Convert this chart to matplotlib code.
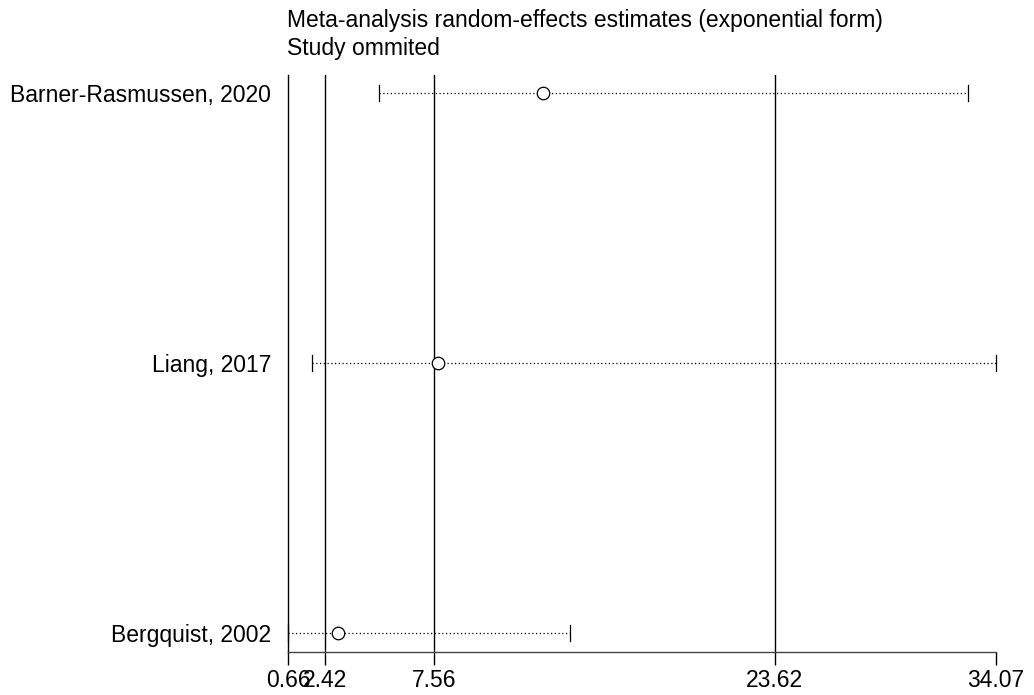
import numpy as np
import matplotlib.pyplot as plt

plt.rcParams['font.family'] = ['Liberation Sans', 'DejaVu Sans']

# =========================
# Data
# =========================
studies = ["Barner-Rasmussen, 2020", "Liang, 2017", "Bergquist, 2002"]
estimate = [12.69, 7.74, 3.02]
lower = [4.95, 1.79, 0.66]
upper = [32.75, 34.07, 13.97]

# reference lines: lower CI, pooled estimate, upper CI
ref_lines = [2.42, 7.56, 23.62]
xticks = [0.66, 2.42, 7.56, 23.62, 34.07]
xtick_labels = ["0.66", "2.42", "7.56", "23.62", "34.07"]

# =========================
# Plot
# =========================
fig = plt.figure(figsize=(10.34, 6.95), dpi=100)
ax = fig.add_axes([0.2785, 0.0619, 0.6847, 0.8301])

y = np.arange(1, len(studies) + 1)

for xv in ref_lines:
    ax.axvline(xv, color="black", lw=1.0, zorder=1)

for yi, est, lo, hi in zip(y, estimate, lower, upper):
    ax.plot([lo, hi], [yi, yi], ls=(0, (1, 2)), color="black", lw=0.9, zorder=2)
    ax.plot([lo, lo], [yi - 0.03, yi + 0.03], color="black", lw=0.9, zorder=2, clip_on=False)
    ax.plot([hi, hi], [yi - 0.03, yi + 0.03], color="black", lw=0.9, zorder=2, clip_on=False)
    ax.plot(est, yi, marker="o", ms=9, mfc="white", mec="black", mew=0.9, zorder=3)

ax.set_xlim(xticks[0], xticks[-1])
ax.set_ylim(3.07, 0.933)

ax.set_xticks(xticks)
ax.set_xticklabels(xtick_labels, fontsize=16.5)
ax.tick_params(axis="x", direction="out", length=9, width=1.0, pad=3)

ax.set_yticks(y)
ax.set_yticklabels(studies, fontsize=16.5)
ax.tick_params(axis="y", length=0, pad=12)

ax.spines["top"].set_visible(False)
ax.spines["right"].set_visible(False)
ax.spines["left"].set_linewidth(1.0)
ax.spines["bottom"].set_linewidth(1.0)
ax.spines["bottom"].set_color("#444444")

fig.text(0.2775, 0.961, "Meta-analysis random-effects estimates (exponential form)",
         fontsize=16.5, va="baseline", ha="left")
fig.text(0.2775, 0.921, "Study ommited", fontsize=16.5, va="baseline", ha="left")

plt.savefig("out.png", dpi=100)
plt.close()
